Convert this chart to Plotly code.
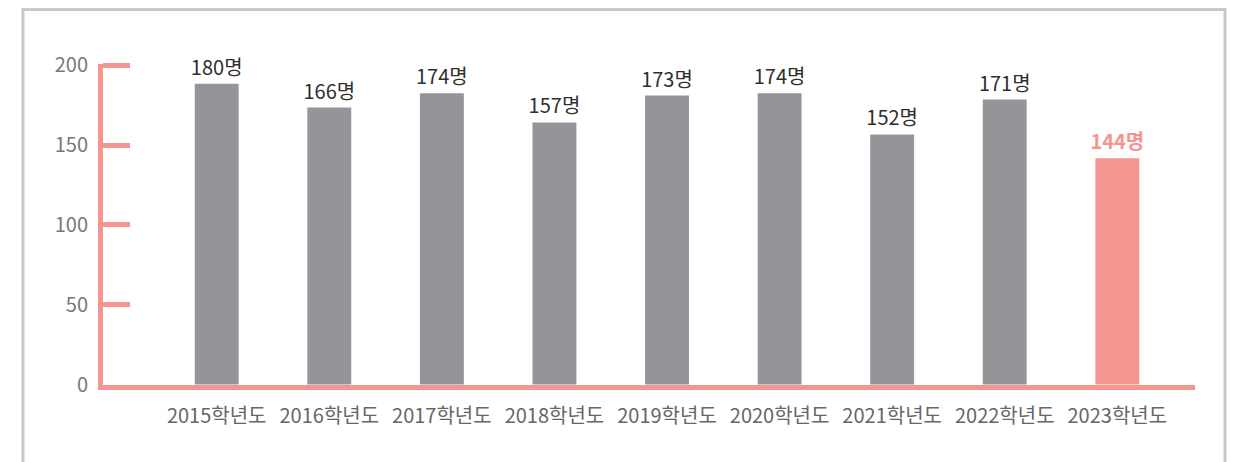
import plotly.graph_objects as go

# Data
years = ["2015학년도", "2016학년도", "2017학년도", "2018학년도", "2019학년도",
         "2020학년도", "2021학년도", "2022학년도", "2023학년도"]
students = [180, 166, 174, 157, 173, 174, 152, 171, 144]          # labelled values
bar_heights = [188.5, 173.5, 182.4, 164.2, 181, 182.4, 156.7, 178.5, 141.7]  # drawn heights as read
y_ticks = [0, 50, 100, 150, 200]

GRAY = "#939598"
PINK = "#f5958f"
FONT = "Noto Sans CJK KR"

colors = [GRAY] * (len(years) - 1) + [PINK]
labels = [f"{v}명" for v in students[:-1]] + [f"<b>{students[-1]}명</b>"]
label_colors = ["#2f2f2f"] * (len(years) - 1) + [PINK]

fig = go.Figure()
fig.add_trace(go.Bar(
    x=list(range(len(years))),
    y=bar_heights,
    width=0.39,
    marker=dict(color=colors, line=dict(width=0)),
    text=labels,
    textposition="outside",
    textfont=dict(family=FONT, size=20, color=label_colors),
    cliponaxis=False,
    constraintext="none",
    hoverinfo="skip",
))

fig.update_layout(
    width=1237, height=462,
    margin=dict(l=95, r=50, t=56, b=85),
    paper_bgcolor="white", plot_bgcolor="white",
    showlegend=False,
    font=dict(family=FONT),
    xaxis=dict(
        range=[-1.01, 8.69],
        tickmode="array",
        tickvals=list(range(len(years))),
        ticktext=years,
        showgrid=False, zeroline=False,
        showline=True, linecolor=PINK, linewidth=5,
        ticks="",
        tickfont=dict(family=FONT, size=20, color="#666666"),
        ticklabelstandoff=9,
        fixedrange=True,
    ),
    yaxis=dict(
        range=[-0.3, 200.8],
        tickmode="array",
        tickvals=y_ticks,
        showgrid=False, zeroline=False,
        showline=True, linecolor=PINK, linewidth=5,
        ticks="inside", ticklen=27, tickwidth=5, tickcolor=PINK,
        tickfont=dict(family=FONT, size=20, color="#777777"),
        ticklabelstandoff=6,
        fixedrange=True,
    ),
    shapes=[dict(
        type="rect", xref="paper", yref="paper",
        x0=-0.0733, x1=1.0275, y0=-0.3, y1=1.17,
        line=dict(color="#c8c8cb", width=3), fillcolor="rgba(0,0,0,0)",
        layer="below",
    )],
)

fig.write_html("out.html")
